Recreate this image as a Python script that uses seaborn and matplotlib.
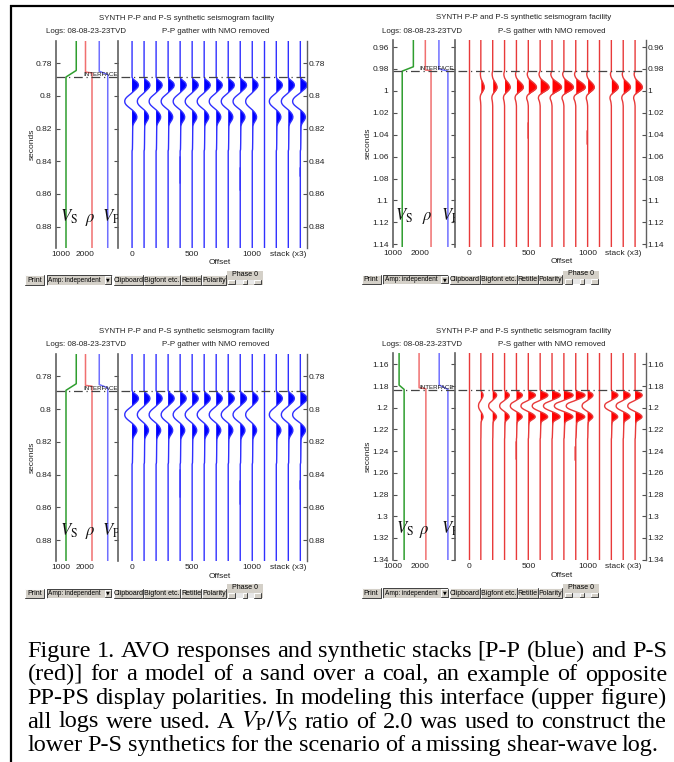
import numpy as np
import matplotlib
matplotlib.use("Agg")
import matplotlib.pyplot as plt
from matplotlib.patches import Rectangle
import seaborn as sns

sns.set_theme(style="white")
plt.rcParams["font.family"] = ["Liberation Sans", "DejaVu Sans"]
plt.rcParams["mathtext.fontset"] = "stix"

W, H = 674, 762

# ---------------- data ----------------
offsets = [0, 100, 200, 300, 400, 500, 600, 700, 800, 900, 1000]
blank_offset = 1100
stack_offsets = [1200, 1300, 1400]

gather_ticks = [0, 500, 1000, 1300]
gather_labels = ["0", "500", "1000", "stack (x3)"]
log_ticks = [1000, 2000]

# P-P wavelet: time after interface (s), amplitude (trace spacings)
pp_wave_t = [0.000, 0.001, 0.002, 0.003, 0.004, 0.005, 0.006, 0.007, 0.008, 0.009,
             0.010, 0.011, 0.012, 0.013, 0.014, 0.015, 0.016, 0.017, 0.018, 0.019,
             0.020, 0.021, 0.022, 0.023, 0.024, 0.025, 0.026, 0.027, 0.028, 0.029,
             0.030, 0.033, 0.040, 0.044, 0.045]
pp_wave_a = [0.00, 0.08, 0.25, 0.42, 0.51, 0.53, 0.48, 0.36, 0.21, 0.06,
             -0.09, -0.26, -0.42, -0.54, -0.60, -0.61, -0.57, -0.47, -0.32, -0.15,
             0.02, 0.16, 0.28, 0.36, 0.40, 0.39, 0.33, 0.24, 0.15, 0.09,
             0.06, 0.05, 0.04, 0.03, 0.00]
pp_gain = [1.0, 0.92, 0.95, 0.95, 0.95, 0.95, 0.95, 0.95, 0.95, 0.98, 0.9]
pp_stack_gain = [0.95, 0.95, 1.05]

# P-S wavelet, all logs (upper right)
ps_wave_t = [0.000, 0.001, 0.002, 0.003, 0.004, 0.005, 0.006, 0.007, 0.008, 0.009,
             0.010, 0.011, 0.012, 0.013, 0.014, 0.015, 0.016, 0.017, 0.018, 0.019,
             0.020, 0.021, 0.022, 0.023, 0.024, 0.025, 0.026, 0.027, 0.028, 0.029,
             0.030, 0.032]
ps_wave_a = [0.00, -0.06, -0.11, -0.13, -0.11, -0.07, -0.02, 0.06, 0.18, 0.33,
             0.50, 0.66, 0.80, 0.91, 0.98, 1.00, 0.95, 0.83, 0.65, 0.45,
             0.25, 0.08, -0.06, -0.15, -0.19, -0.20, -0.17, -0.12, -0.08, -0.05,
             -0.03, 0.00]
ps_gain = [0.0, 0.28, 0.36, 0.47, 0.58, 0.69, 0.75, 0.80, 0.80, 0.80, 0.56]
ps_stack_gain = [0.58, 0.61, 0.61]

# P-S wavelet, Vp/Vs = 2 (lower right)
ps2_wave_a = [0.00, 0.15, 0.47, 0.80, 0.97, 1.00, 0.90, 0.68, 0.40, 0.11,
              -0.17, -0.49, -0.79, -0.95, -1.02, -1.03, -0.97, -0.82, -0.57, -0.27,
              0.04, 0.35, 0.62, 0.82, 0.95, 0.97, 0.85, 0.62, 0.38, 0.20,
              0.12, 0.08, 0.05, 0.03, 0.00]
ps2_gain = [0.0, 0.19, 0.33, 0.40, 0.50, 0.60, 0.65, 0.70, 0.78, 0.78, 0.45]
ps2_stack_gain = [0.55, 0.58, 0.60]

# short broken segments on some traces: offset, t0, t1
pp_blips = [(400, 0.8373, 0.8534), (900, 0.8440, 0.8577), (1400, 0.8440, 0.8490)]
ps_blips = [(500, 1.0294, 1.0430), (1000, 1.0364, 1.0485)]
ps2_blips = [(400, 1.2314, 1.2468), (900, 1.2360, 1.2483)]

# logs: time (s) and value
pp_vs_t = [0.7665, 0.7845, 0.7885, 0.8930]
pp_vs = [1630, 1630, 1220, 1220]
pp_rho_t = [0.7665, 0.7855, 0.7860, 0.8930]
pp_rho = [2000, 2000, 2260, 2260]
pp_vp_t = [0.7665, 0.7850, 0.7870, 0.8930]
pp_vp = [2550, 2550, 2890, 2890]

ps_vs_t = [0.9536, 0.9780, 0.9820, 1.1425]
ps_vs = [1750, 1750, 1340, 1340]
ps_rho_t = [0.9536, 0.9810, 0.9815, 1.1425]
ps_rho = [2190, 2190, 2400, 2400]
ps_vp_t = [0.9536, 0.9800, 0.9820, 1.1425]
ps_vp = [2690, 2690, 3020, 3020]

ps2_vs_t = [1.1498, 1.1791, 1.1831, 1.3406]
ps2_vs = [1225, 1225, 1410, 1410]
ps2_rho_t = [1.1498, 1.1815, 1.1825, 1.3406]
ps2_rho = [1960, 1960, 2210, 2210]
ps2_vp_t = [1.1498, 1.1790, 1.1831, 1.3406]
ps2_vp = [2700, 2700, 3020, 3020]

caption = [
    "Figure 1. AVO responses and synthetic stacks [P-P (blue) and P-S",
    "(red)] for a model of a sand over a coal, an example of opposite",
    "PP-PS display polarities. In modeling this interface (upper figure)",
    r"all logs were used. A $V_\mathrm{P}/V_\mathrm{S}$ ratio of 2.0 was used to construct the",
    "lower P-S synthetics for the scenario of a missing shear-wave log.",
]

TXT = "#222222"
FS = 6.0
FT = 5.7

fig = plt.figure(figsize=(W / 100, H / 100), dpi=100)
fig.patch.set_facecolor("white")


def rect(x0, x1, y0, y1):
    return [x0 / W, 1 - y1 / H, (x1 - x0) / W, (y1 - y0) / H]


def tick_fmt(v):
    return f"{round(v, 2):g}"


label_t = {"pp": 0.877, "ps": 1.118, "ps2": 1.316}
vlabels = [r"$V_\mathrm{S}$", r"$\rho$", r"$V_\mathrm{P}$"]


def draw_window(dx, dy, tl, interface, yticks, log_lim, gather_lim, logs, label_x,
                wave_t, wave_a, gains, stack_gains, blips, line_col, fill_col, ptype):
    y0, y1 = 41 + dy, 248 + dy
    axl = fig.add_axes(rect(56 + dx, 118 + dx, y0, y1))
    gx1 = 307.3 if ptype == "pp" else 309.3
    axg = fig.add_axes(rect(121 + dx, gx1 + dx, y0, y1))

    # ---- log panel ----
    for (lt, lv), col in zip(logs, ["#2f9e2f", "#f07070", "#7070ff"]):
        sns.lineplot(x=lv, y=lt, sort=False, estimator=None, ax=axl,
                     color=col, lw=1.1)
    axl.set_xlim(*log_lim)
    axl.set_ylim(tl[1], tl[0])
    axl.set_yticks(yticks, [tick_fmt(v) for v in yticks])
    axl.set_xticks(log_ticks, [str(v) for v in log_ticks])
    axl.tick_params(axis="y", left=True, right=True, direction="in", length=3,
                    width=0.8, labelsize=FS, pad=3, labelcolor=TXT, color="#505050")
    axl.tick_params(axis="x", length=0, labelsize=FS, pad=2, labelcolor=TXT)
    for s in ["top", "bottom"]:
        axl.spines[s].set_visible(False)
    for s in ["left", "right"]:
        axl.spines[s].set_color("#606060")
        axl.spines[s].set_linewidth(1.2)
    axl.set_ylabel("seconds", fontsize=FS, color=TXT, labelpad=0)
    axl.set_xlabel("")
    axl.axhline(interface, color="#444444", lw=0.9, ls=(0, (7, 3, 1, 3)))
    axl.text(0.99, interface, "INTERFACE", transform=axl.get_yaxis_transform(),
             ha="right", va="bottom", fontsize=4.4, color="#111111")
    for lx, lab in zip(label_x, vlabels):
        axl.text(lx, label_t[ptype], lab, fontsize=12, color="#111111",
                 va="baseline", ha="left", clip_on=True)

    # ---- gather panel ----
    t_arr = interface + np.array(wave_t)
    w_arr = np.array(wave_a)
    for off, g in zip(offsets + stack_offsets, gains + stack_gains):
        a = w_arr * g * 100
        xs = np.concatenate([[off], off + a, [off, off]])
        ts = np.concatenate([[tl[0] - 0.01], t_arr, [t_arr[-1], tl[1] + 0.01]])
        axg.plot(xs, ts, color=line_col, lw=1.0)
        axg.fill_betweenx(t_arr, off, off + a, where=a > 0, interpolate=True,
                          color=fill_col, lw=0)
    axg.plot([blank_offset, blank_offset], [tl[0] - 0.01, tl[1] + 0.01],
             color=line_col, lw=1.0)
    for off, b0, b1 in blips:
        axg.plot([off - 4, off - 4], [b0, b1], color=line_col, lw=1.3, alpha=0.6)
    axg.axhline(interface, color="#444444", lw=0.9, ls=(0, (7, 3, 1, 3)))
    axg.set_xlim(*gather_lim)
    axg.set_ylim(tl[1], tl[0])
    axg.yaxis.tick_right()
    axg.set_yticks(yticks, [tick_fmt(v) for v in yticks])
    axg.set_xticks(gather_ticks, gather_labels)
    axg.tick_params(axis="y", direction="in", length=3, width=0.8, labelsize=FS,
                    pad=1, labelcolor=TXT, color="#505050")
    axg.tick_params(axis="x", length=0, labelsize=FS, pad=2, labelcolor=TXT)
    for s in ["top", "bottom", "left"]:
        axg.spines[s].set_visible(False)
    axg.spines["right"].set_color("#606060")
    axg.spines["right"].set_linewidth(1.0)
    axg.set_xlabel("Offset", fontsize=FS, color=TXT, labelpad=1)
    axg.xaxis.set_label_coords(0.53 if ptype == "pp" else 0.55, -0.055)


pp_logs = [(pp_vs_t, pp_vs), (pp_rho_t, pp_rho), (pp_vp_t, pp_vp)]
ps_logs = [(ps_vs_t, ps_vs), (ps_rho_t, ps_rho), (ps_vp_t, ps_vp)]
ps2_logs = [(ps2_vs_t, ps2_vs), (ps2_rho_t, ps2_rho), (ps2_vp_t, ps2_vp)]

pp_yticks = [0.78, 0.80, 0.82, 0.84, 0.86, 0.88]
ps_yticks = [0.96 + 0.02 * i for i in range(10)]
ps2_yticks = [1.16 + 0.02 * i for i in range(10)]

panels = [
    (0, 0, (0.7665, 0.893), 0.7887, pp_yticks, (820, 3300), (-92, 1458), pp_logs,
     [960, 1968, 2660], pp_wave_t, pp_wave_a, pp_gain,
     pp_stack_gain, pp_blips, "#3030ff", "#0000ff", "pp"),
    (336.7, -1, (0.9536, 1.1425), 0.9818, ps_yticks, (990, 3270), (-95, 1492), ps_logs,
     [1090, 2055, 2780], ps_wave_t, ps_wave_a, ps_gain,
     ps_stack_gain, ps_blips, "#e83a3a", "#ff0000", "ps"),
    (0, 313.3, (0.7665, 0.893), 0.7887, pp_yticks, (820, 3300), (-92, 1458), pp_logs,
     [960, 1968, 2660], pp_wave_t, pp_wave_a, pp_gain,
     pp_stack_gain, pp_blips, "#3030ff", "#0000ff", "pp"),
    (336.7, 312.3, (1.1498, 1.3406), 1.1837, ps2_yticks, (990, 3270), (-95, 1492), ps2_logs,
     [1115, 1957, 2750], pp_wave_t, ps2_wave_a, ps2_gain,
     ps2_stack_gain, ps2_blips, "#e83a3a", "#ff0000", "ps2"),
]

for p in panels:
    draw_window(*p)

# ---------------- overlay in pixel coordinates ----------------
ov = fig.add_axes([0, 0, 1, 1], zorder=10)
ov.set_xlim(0, W)
ov.set_ylim(H, 0)
ov.axis("off")

ov.plot([10, W], [6, 6], color="black", lw=1.6, solid_capstyle="butt")
ov.plot([11, 11], [5, H], color="black", lw=1.6, solid_capstyle="butt")

GRAY = "#d4d0c8"


def button(x0, x1, y0, y1, label, fs=5.0):
    ov.add_patch(Rectangle((x0, y0), x1 - x0, y1 - y0, fc=GRAY, ec="none"))
    ov.plot([x0, x0, x1], [y1, y0, y0], color="white", lw=0.7)
    ov.plot([x0, x1, x1], [y1, y1, y0], color="#404040", lw=0.7)
    if label:
        ov.text((x0 + x1) / 2, (y0 + y1) / 2 + 0.3, label, fontsize=fs, ha="center",
                va="center", color="black")


for dx, dy, gtitle in [(0, 0, "P-P gather with NMO removed"),
                       (336.7, -0.5, "P-S gather with NMO removed"),
                       (0, 313.3, "P-P gather with NMO removed"),
                       (336.7, 312.8, "P-S gather with NMO removed")]:
    ov.text(187 + dx, 18.3 + dy, "SYNTH P-P and P-S synthetic seismogram facility",
            fontsize=FT, ha="center", va="center", color=TXT)
    ov.text(85.7 + dx, 31.7 + dy, "Logs: 08-08-23-23TVD", fontsize=FT, ha="center",
            va="center", color=TXT)
    ov.text(215.5 + dx, 31.7 + dy, gtitle, fontsize=FT, ha="center", va="center",
            color=TXT)

    by0, by1 = 275.2 + dy, 284.8 + dy
    button(25 + dx, 44 + dx, by0, by1, "Print")
    # drop-down
    ov.add_patch(Rectangle((46.7 + dx, by0), 65, by1 - by0, fc=GRAY, ec="none"))
    ov.plot([46.7 + dx, 46.7 + dx, 111.7 + dx], [by1, by0, by0], color="#404040", lw=0.7)
    ov.plot([46.7 + dx, 111.7 + dx, 111.7 + dx], [by1, by1, by0], color="white", lw=0.7)
    ov.text(48.0 + dx, (by0 + by1) / 2 + 0.3, "Amp: independent", fontsize=4.7,
            ha="left", va="center", color="black")
    button(104.5 + dx, 111 + dx, by0 + 1, by1 - 1, "")
    ov.text(107.7 + dx, (by0 + by1) / 2, "\u25BC", fontsize=3.5, ha="center",
            va="center", color="black", family="DejaVu Sans")
    button(113.5 + dx, 143 + dx, by0, by1, "Clipboard")
    button(144 + dx, 180 + dx, by0, by1, "Bigfont etc.")
    button(181 + dx, 201 + dx, by0, by1, "Retitle")
    button(202 + dx, 225.7 + dx, by0, by1, "Polarity")
    # phase slider
    ov.add_patch(Rectangle((226.7 + dx, 271 + dy), 36, 13.8, fc=GRAY, ec="none"))
    ov.text(244.7 + dx, 274.3 + dy, "Phase 0", fontsize=5.0, ha="center", va="center",
            color="black")
    ov.add_patch(Rectangle((228 + dx, 279.8 + dy), 33, 4.5, fc="#e8e8e8", ec="none"))
    button(228 + dx, 235 + dx, 279.8 + dy, 284.3 + dy, "")
    button(254 + dx, 261 + dx, 279.8 + dy, 284.3 + dy, "")
    button(243 + dx, 247 + dx, 279.8 + dy, 284.3 + dy, "")

# ---------------- justified caption ----------------
renderer = fig.canvas.get_renderer()
cx0, cx1 = 27.5, 667.0
base0, step = 657.0, 23.5
for i, line in enumerate(caption):
    words = line.split(" ")
    objs = [ov.text(0, base0 + i * step, w, fontsize=17.5, family="Liberation Serif",
                    ha="left", va="baseline", color="black") for w in words]
    widths = [o.get_window_extent(renderer).width for o in objs]
    right = cx1 if i < len(caption) - 1 else 659.0
    gap = (right - cx0 - sum(widths)) / (len(words) - 1)
    x = cx0
    for o, w in zip(objs, widths):
        o.set_x(x)
        x += w + gap

fig.savefig("out.png", dpi=100, facecolor="white")
